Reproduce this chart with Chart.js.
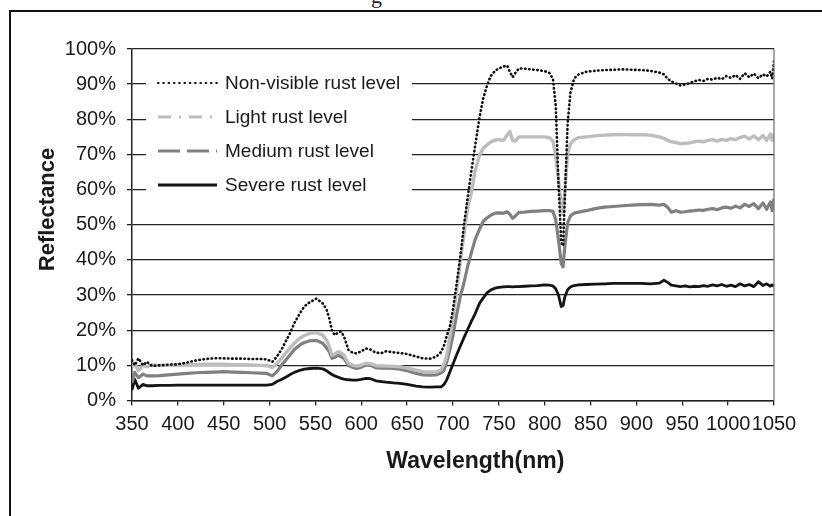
<!DOCTYPE html>
<html>
<head>
<meta charset="utf-8">
<script src="https://cdn.jsdelivr.net/npm/chart.js@4.4.1/dist/chart.umd.min.js"></script>
<style>
  html, body { margin: 0; padding: 0; background: #fff; overflow: hidden; }
  body { width: 822px; height: 516px; position: relative; }
  #cut { position: absolute; left: 371px; top: -17px; font: 22px "Liberation Serif", serif; color: #222; }
  #frame { position: absolute; left: 9px; top: 10px; width: 900px; height: 600px; border: 2px solid #111; box-sizing: border-box; }
  #chart { position: absolute; left: 0; top: 0; }
</style>
</head>
<body>
<div id="cut">g</div>
<div id="frame"></div>
<canvas id="chart" width="822" height="516"></canvas>
<script>
/* Spectral reflectance of rusted samples, 350-1050 nm */

const wavelengthNm = [
    350, 353, 357, 362, 366, 372, 380, 390, 400, 410,
    420, 430, 440, 450, 460, 470, 480, 490, 497, 503,
    508, 513, 518, 522, 527, 533, 538, 544, 551, 558,
    562, 565, 568, 571, 575, 578, 581, 586, 591, 595,
    600, 605, 610, 616, 622, 627, 635, 642, 650, 660,
    667, 675, 682, 687, 690, 693, 697, 700, 704, 708,
    712, 716, 720, 724, 729, 733, 737, 741, 746, 750,
    755, 759, 762, 765, 768, 772, 778, 785, 792, 800,
    805, 809, 812, 815, 818, 820, 822, 825, 828, 832,
    837, 845, 855, 865, 875, 885, 895, 905, 915, 925,
    930, 934, 938, 943, 948, 953, 958, 963, 968, 973,
    978, 983, 988, 993, 998, 1003, 1008, 1013, 1018, 1023,
    1028, 1033, 1038, 1042, 1046, 1048, 1050
];

const nonVisible = [
    11.5, 10.0, 12.0, 10.0, 11.0, 9.8, 10.0, 10.2, 10.3, 10.8,
    11.4, 11.8, 12.0, 12.0, 11.9, 11.9, 11.8, 11.8, 11.7, 11.0,
    12.5, 14.5, 17.0, 19.0, 22.0, 24.8, 26.8, 28.0, 29.0, 27.6,
    26.0, 23.5, 20.0, 18.6, 19.4, 19.6, 18.3, 14.4, 13.5, 13.4,
    14.0, 14.8, 14.5, 13.6, 13.5, 14.0, 13.7, 13.5, 13.2, 12.5,
    12.0, 11.9, 12.5, 13.8, 15.5, 18.2, 21.5, 26.0, 33.3, 41.0,
    50.0, 57.8, 65.2, 72.2, 80.7, 86.0, 89.5, 92.3, 93.8, 94.5,
    95.0, 95.3, 93.5, 92.0, 93.2, 94.5, 94.4, 94.2, 94.0, 93.7,
    93.2, 91.5, 84.0, 62.0, 45.0, 44.0, 58.0, 78.9, 87.5, 91.6,
    92.8, 93.5, 93.8, 94.0, 94.1, 94.2, 94.1, 94.0, 93.8, 93.3,
    92.8, 91.5, 90.8, 90.2, 89.6, 89.9, 90.3, 90.8, 91.2, 90.9,
    91.5, 91.3, 91.8, 91.4, 92.3, 91.8, 92.6, 91.5, 93.1, 92.0,
    93.0, 91.7, 92.8, 92.2, 93.5, 91.6, 96.5
];

const lightRust = [
    9.5, 10.5, 8.5, 10.0, 9.6, 10.1, 10.0, 10.0, 10.1, 10.2,
    10.2, 10.3, 10.3, 10.3, 10.2, 10.2, 10.1, 10.0, 9.9, 9.4,
    10.5, 12.0, 13.6, 14.8, 16.3, 17.7, 18.5, 19.1, 19.3, 18.6,
    17.2, 15.5, 12.9, 13.2, 13.9, 13.5, 12.9, 10.6, 10.0, 9.8,
    10.1, 10.6, 10.5, 9.9, 9.8, 9.8, 9.7, 9.6, 9.2, 8.6,
    8.2, 8.1, 8.2, 8.7, 10.3, 12.5, 18.7, 23.8, 31.4, 39.5,
    47.5, 54.9, 59.0, 65.2, 69.8, 71.8, 72.7, 73.5, 74.1, 74.2,
    74.0, 75.5, 76.5, 74.0, 73.8, 75.0, 75.0, 75.0, 75.0, 75.0,
    74.8, 73.8, 69.4, 62.7, 56.0, 53.0, 60.0, 70.3, 73.0, 74.2,
    74.8, 75.0, 75.3, 75.5, 75.6, 75.7, 75.6, 75.6, 75.5, 75.0,
    74.6, 74.0, 73.6, 73.4, 73.0, 73.2, 73.3, 73.6, 73.8, 73.6,
    74.0, 74.2, 73.8, 74.3, 74.0, 74.5, 74.2, 74.8, 75.2, 74.4,
    75.3, 74.2, 75.4, 74.0, 75.8, 74.0, 76.0
];

const mediumRust = [
    5.0, 8.0, 6.5, 7.5, 7.0, 7.0, 7.1, 7.3, 7.5, 7.7,
    7.9, 8.0, 8.1, 8.2, 8.1, 8.0, 7.9, 7.8, 7.7, 7.0,
    8.2, 10.0, 11.6, 12.9, 14.5, 15.8, 16.5, 17.0, 17.1, 16.3,
    15.0, 13.9, 12.0, 12.3, 12.9, 12.4, 12.0, 10.0, 9.4, 9.1,
    9.5, 10.1, 10.0, 9.3, 9.2, 9.2, 9.1, 8.9, 8.5, 7.7,
    7.3, 7.2, 7.3, 7.8, 8.5, 10.8, 14.9, 18.6, 24.5, 29.6,
    33.5, 38.2, 42.0, 45.7, 48.8, 51.0, 51.9, 52.7, 53.3, 53.4,
    53.3, 53.7, 53.0, 51.8, 52.5, 53.5, 53.6, 53.8, 53.9, 54.0,
    54.0, 53.8, 51.4, 45.7, 39.0, 38.0, 44.0, 50.5, 52.5, 53.3,
    53.6, 54.0, 54.6, 55.0, 55.2, 55.4, 55.6, 55.7, 55.8, 55.6,
    55.8, 55.0, 53.6, 54.0, 53.6, 53.7, 53.9, 54.0, 54.2, 54.1,
    54.4, 54.6, 54.3, 54.8, 55.0, 54.7, 55.3, 54.8, 55.8, 55.2,
    56.0, 54.6, 56.2, 54.4, 56.5, 54.0, 57.5
];

const severeRust = [
    3.0, 6.0, 3.5, 4.6, 4.2, 4.2, 4.3, 4.3, 4.4, 4.4,
    4.4, 4.4, 4.4, 4.4, 4.4, 4.4, 4.4, 4.4, 4.4, 4.6,
    5.4, 6.0, 6.7, 7.3, 8.0, 8.6, 8.9, 9.1, 9.2, 9.0,
    8.5, 7.9, 7.4, 7.0, 6.6, 6.3, 6.1, 5.9, 5.8, 5.8,
    6.0, 6.3, 6.2, 5.6, 5.4, 5.2, 5.0, 4.9, 4.6, 4.1,
    3.9, 3.8, 3.9, 3.9, 4.5, 5.8, 8.4, 10.4, 13.0, 15.5,
    17.9, 20.2, 22.5, 24.6, 27.7, 29.2, 30.6, 31.4, 32.0, 32.2,
    32.3, 32.4, 32.4, 32.3, 32.4, 32.4, 32.5, 32.6, 32.7, 32.9,
    32.8, 32.6, 31.8, 30.0, 26.7, 27.0, 29.5, 31.5, 32.3, 32.7,
    32.9, 33.0, 33.1, 33.2, 33.3, 33.3, 33.3, 33.3, 33.2, 33.4,
    34.2, 33.6, 32.8, 32.6, 32.4, 32.6, 32.3, 32.5, 32.4, 32.7,
    32.5, 32.9, 32.6, 33.0, 32.5, 32.8, 32.4, 33.2, 32.6, 33.0,
    32.4, 33.8, 32.7, 33.2, 32.5, 32.9, 32.4
];

const seriesLabels = ['Non-visible rust level', 'Light rust level', 'Medium rust level', 'Severe rust level'];

const FONT = '"Liberation Sans", Arial, Helvetica, sans-serif';
const INK = '#1a1a1a';

function toPoints(values) {
    return values.map((v, i) => ({ x: wavelengthNm[i], y: v }));
}

// ── Legend drawn inside the plot, on a white box ─────────────────────────

const insideLegend = {
    id: 'insideLegend',
    afterDraw(chart) {
        const ctx = chart.ctx;
        const area = chart.chartArea;
        const left = area.left + 14;
        const top = area.top + 34;

        ctx.save();
        // right frame of the plot
        ctx.strokeStyle = '#777';
        ctx.lineWidth = 1.3;
        ctx.beginPath();
        ctx.moveTo(area.right, area.top);
        ctx.lineTo(area.right, area.bottom);
        ctx.stroke();

        ctx.fillStyle = '#fff';
        ctx.fillRect(left, top - 20, 266, 140);

        chart.data.datasets.forEach((ds, i) => {
            const y = top + i * 34;
            ctx.beginPath();
            ctx.strokeStyle = ds.borderColor;
            ctx.lineWidth = ds.legendWidth;
            ctx.lineCap = ds.legendCap;
            ctx.setLineDash(ds.legendDash);
            ctx.moveTo(left + 12, y);
            ctx.lineTo(left + 71, y);
            ctx.stroke();
            ctx.setLineDash([]);

            ctx.fillStyle = INK;
            ctx.font = '19px ' + FONT;
            ctx.textBaseline = 'middle';
            ctx.fillText(ds.label, left + 79, y + 1);
        });
        ctx.restore();
    }
};

const datasets = [
    {
        label: seriesLabels[0],
        data: toPoints(nonVisible),
        borderColor: '#111',
        borderWidth: 2.6,
        borderDash: [0.5, 3.6],
        borderCapStyle: 'round',
        legendDash: [0.5, 4.8], legendWidth: 2.2, legendCap: 'round',
    },
    {
        label: seriesLabels[1],
        data: toPoints(lightRust),
        borderColor: '#bdbdbd',
        borderWidth: 3.4,
        legendDash: [13, 8, 2, 8], legendWidth: 3, legendCap: 'butt',
    },
    {
        label: seriesLabels[2],
        data: toPoints(mediumRust),
        borderColor: '#808080',
        borderWidth: 3.2,
        legendDash: [22, 7], legendWidth: 3, legendCap: 'butt',
    },
    {
        label: seriesLabels[3],
        data: toPoints(severeRust),
        borderColor: '#141414',
        borderWidth: 2.8,
        legendDash: [], legendWidth: 3, legendCap: 'butt',
    },
];

datasets.forEach(ds => {
    ds.pointRadius = 0;
    ds.tension = 0;
    ds.fill = false;
    ds.borderJoinStyle = 'round';
});

new Chart(document.getElementById('chart'), {
    type: 'line',
    data: { datasets },
    plugins: [insideLegend],
    options: {
        responsive: false,
        animation: false,
        layout: { padding: { left: 35, top: 49, right: 48, bottom: 41 } },
        plugins: {
            legend: { display: false },
            tooltip: { enabled: false },
        },
        scales: {
            x: {
                type: 'linear',
                min: 350,
                max: 1050,
                ticks: {
                    stepSize: 50,
                    autoSkip: false,
                    maxRotation: 0,
                    padding: 7,
                    color: INK,
                    font: { family: FONT, size: 20 },
                    callback: v => String(v),
                },
                grid: { drawOnChartArea: false, color: '#222', lineWidth: 1.3, tickLength: 5 },
                border: { color: '#222', width: 1.5 },
                title: {
                    display: true,
                    text: '       Wavelength(nm)',
                    color: INK,
                    padding: 0,
                    font: { family: FONT, size: 23, weight: 'bold' },
                },
                afterFit(scale) { scale.height = 74.5; },
            },
            y: {
                min: 0,
                max: 100,
                ticks: {
                    stepSize: 10,
                    padding: 11,
                    color: INK,
                    font: { family: FONT, size: 20 },
                    callback: v => v + '%',
                },
                grid: { color: '#222', lineWidth: 1.3, tickLength: 5 },
                border: { color: '#222', width: 1.5 },
                title: {
                    display: true,
                    text: '     Reflectance',
                    color: INK,
                    padding: 0,
                    font: { family: FONT, size: 22, weight: 'bold' },
                },
                afterFit(scale) { scale.width = 97; },
            },
        },
    },
});
</script>
</body>
</html>
